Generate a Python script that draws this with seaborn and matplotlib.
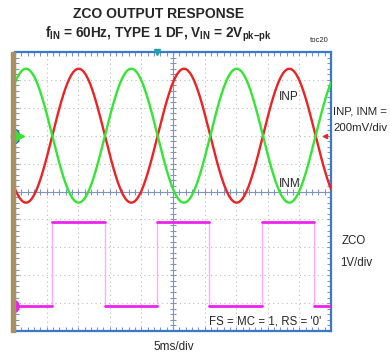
import numpy as np
import pandas as pd
import matplotlib
matplotlib.use('Agg')
import matplotlib.pyplot as plt
import matplotlib.path as mpath
from matplotlib.transforms import Affine2D
from matplotlib.patches import Rectangle
import seaborn as sns

# ---------------- data ----------------
f_in_hz = 60.0                 # input frequency
inp_amplitude_mv = 480.0       # peak amplitude of INP / INM on screen
inx_scale_mv_per_div = 200.0   # INP, INM = 200mV/div
inx_offset_div = 2.0           # channel ground marker position (div)
first_crossing_ms = 5.9        # first INP/INM crossing
zco_edges_ms = [5.9, 14.25, 22.5, 30.75, 39.1, 47.35]
zco_levels_v = [0.0, 3.0]      # low, high
zco_start_index = 0            # starts low
zco_scale_v_per_div = 1.0      # ZCO 1V/div
zco_offset_div = -4.1          # ZCO ground marker position (div)
time_span_ms = 50.0            # 10 div x 5ms/div
trigger_ms = 22.4

# ---------------- style ----------------
sns.set_style('white')
plt.rcParams['font.family'] = ['Liberation Sans', 'DejaVu Sans']
plt.rcParams['mathtext.fontset'] = 'custom'
plt.rcParams['mathtext.rm'] = 'Liberation Sans:bold'
plt.rcParams['mathtext.it'] = 'Liberation Sans:bold'
plt.rcParams['mathtext.bf'] = 'Liberation Sans:bold'

W, H = 390, 356
fig = plt.figure(figsize=(W / 100, H / 100), dpi=100)
ax = fig.add_axes([15 / W, 1 - 331 / H, 316 / W, 279 / H])
ax.set_xlim(0, time_span_ms)
ax.set_ylim(-5, 5)

RED = '#ee2222'
GREEN = '#33e633'
MAG = '#ee22ee'
PINK = '#ffaaff'
BLUE = '#3a78cc'
TICK = '#7f95c0'

# grid
for i in range(1, 10):
    if i != 5:
        ax.axvline(i * 5, color='#bdbdbd', lw=0.8, ls=(0, (1, 3)), zorder=0)
for j in range(-4, 5):
    if j != 0:
        ax.axhline(j, color='#bdbdbd', lw=0.8, ls=(0, (1, 3)), zorder=0)
ax.axvline(25, color=TICK, lw=0.8, zorder=0.5)
ax.axhline(0, color=TICK, lw=0.8, zorder=0.5)
xs = np.arange(0, time_span_ms + 0.01, 1.0)
ys = np.arange(-5, 5.01, 0.2)
ax.plot(xs, np.zeros_like(xs), ls='none', marker='|', ms=4, mew=0.8, color=TICK, zorder=0.5)
ax.plot(np.full_like(ys, 25), ys, ls='none', marker='_', ms=4, mew=0.8, color=TICK, zorder=0.5)

# edge ticks
ax.set_xticks(xs)
ax.set_yticks(ys)
ax.set_xticklabels([])
ax.set_yticklabels([])
ax.tick_params(direction='in', length=3, width=0.8, color=TICK,
               top=True, bottom=True, left=True, right=True)

# sine traces
t = np.linspace(0, time_span_ms, 1500)
phase = 2 * np.pi * f_in_hz * (t - first_crossing_ms) / 1000.0
inp = inp_amplitude_mv * np.sin(phase)
inm = -inp
df = pd.DataFrame({
    't': np.concatenate([t, t]),
    'y': np.concatenate([inx_offset_div + inp / inx_scale_mv_per_div,
                         inx_offset_div + inm / inx_scale_mv_per_div]),
    'ch': ['INP'] * len(t) + ['INM'] * len(t),
})
sns.lineplot(data=df, x='t', y='y', hue='ch', palette={'INP': RED, 'INM': GREEN},
             estimator=None, sort=False, linewidth=1.7, legend=False, ax=ax, zorder=3)

# ZCO square wave
bounds = [0.0] + zco_edges_ms + [time_span_ms]
rows = []
for i in range(len(bounds) - 1):
    lvl = zco_levels_v[(zco_start_index + i) % 2]
    yv = zco_offset_div + lvl / zco_scale_v_per_div
    rows.append((i, bounds[i], yv))
    rows.append((i, bounds[i + 1], yv))
zdf = pd.DataFrame(rows, columns=['seg', 't', 'y'])
lo = zco_offset_div + zco_levels_v[0] / zco_scale_v_per_div
hi = zco_offset_div + zco_levels_v[1] / zco_scale_v_per_div
ax.vlines(zco_edges_ms, lo, hi, color=PINK, lw=1.0, zorder=2)
sns.lineplot(data=zdf, x='t', y='y', units='seg', estimator=None, color=MAG,
             linewidth=2.0, legend=False, ax=ax, zorder=3)
ax.set_xlabel('')
ax.set_ylabel('')

# markers
ell = mpath.Path.unit_circle().transformed(Affine2D().scale(0.6, 1.0))
ax.plot([0], [inx_offset_div], marker=ell, ms=10, mfc=GREEN, mec='#2255dd', mew=0.8,
        clip_on=False, zorder=6)
ax.plot([0.9], [inx_offset_div], marker='>', ms=4, color=GREEN, clip_on=False, zorder=6)
ax.plot([0], [zco_offset_div], marker=ell, ms=8, mfc=MAG, mec=MAG, clip_on=False, zorder=6)
ax.plot([49.1], [inx_offset_div], marker='<', ms=3, color=RED, clip_on=False, zorder=6)
ax.plot([trigger_ms], [5], marker='v', ms=4, color='#22a0a8', clip_on=False, zorder=6)

# spines
for s in ['top', 'right', 'bottom']:
    ax.spines[s].set_color(BLUE)
    ax.spines[s].set_linewidth(1.6)
ax.spines['left'].set_color('#6a8cc8')
ax.spines['left'].set_linewidth(0.8)
fig.patches.append(Rectangle((11 / W, 1 - 332 / H), 4 / W, 280 / H,
                             transform=fig.transFigure, color='#a89060', zorder=5))

# texts
def ft(x, y, s, **kw):
    fig.text(x / W, 1 - y / H, s, **kw)

ft(159, 18.3, 'ZCO OUTPUT RESPONSE', ha='center', va='baseline', fontsize=10, fontweight='bold')
ft(158, 37.3, r'$f_{IN}$ = 60Hz, TYPE 1 DF, $V_{IN}$ = 2$V_{pk{-}pk}$',
   ha='center', va='baseline', fontsize=9.8, fontweight='bold')
ft(329, 42, 'toc20', ha='right', va='baseline', fontsize=5.5)
ft(279, 100, 'INP', fontsize=8.5, va='baseline')
ft(279, 186.7, 'INM', fontsize=8.5, va='baseline')
ft(333, 114.5, 'INP, INM =', fontsize=8.2, va='baseline')
ft(333, 131, '200mV/div', fontsize=8.2, va='baseline')
ft(341.5, 243.5, 'ZCO', fontsize=8.3, va='baseline')
ft(340, 266.5, '1V/div', fontsize=8.3, va='baseline')
ft(209, 324, "FS = MC = 1, RS = '0'", fontsize=8.3, va='baseline')
ft(153, 349.5, '5ms/div', fontsize=8.5, va='baseline')

fig.savefig('out.png', dpi=100)
